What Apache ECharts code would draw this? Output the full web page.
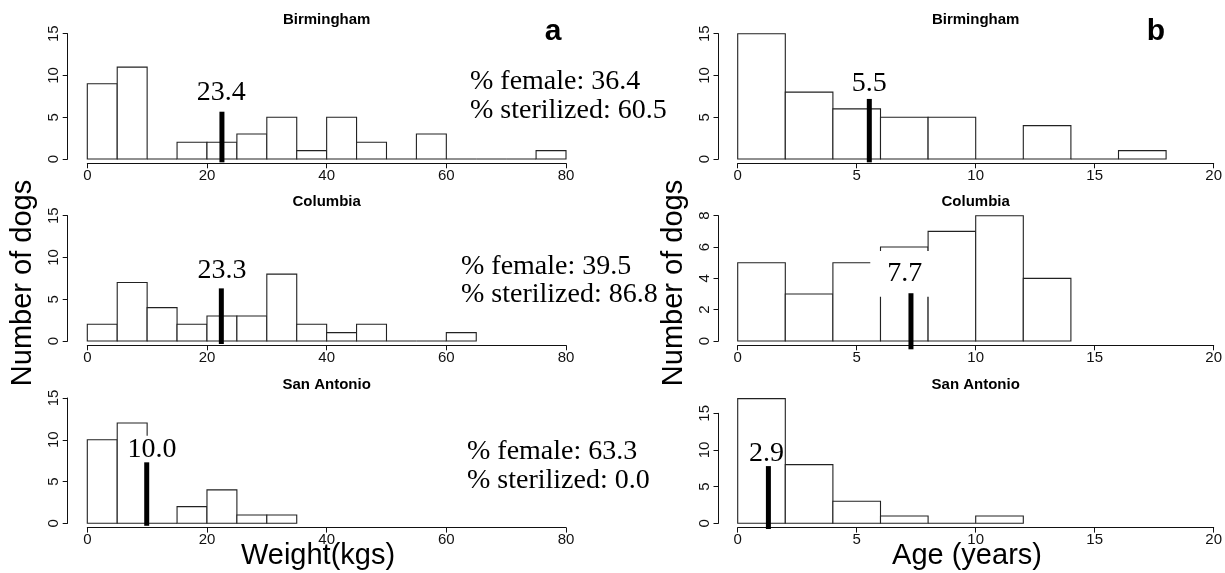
<!DOCTYPE html>
<html><head><meta charset="utf-8">
<script src="https://cdn.jsdelivr.net/npm/echarts@6/dist/echarts.min.js"></script>
<style>html,body{margin:0;padding:0;background:#fff}#c{width:1225px;height:573px}</style>
</head><body><div id="c"></div>
<script>
// ---------- data ----------
const cities = ['Birmingham', 'Columbia', 'San Antonio'];
const weightBinStarts = [0, 5, 10, 15, 20, 25, 30, 35, 40, 45, 50, 55, 60, 65, 70, 75];
const weightBinWidth = 5;
const ageBinStarts = [0, 2, 4, 6, 8, 10, 12, 14, 16];
const ageBinWidth = 2;
const weightBirmingham = [9, 11, 0, 2, 2, 3, 5, 1, 5, 2, 0, 3, 0, 0, 0, 1];
const weightColumbia = [2, 7, 4, 2, 3, 3, 8, 2, 1, 2, 0, 0, 1];
const weightSanAntonio = [10, 12, 0, 2, 4, 1, 1];
const ageBirmingham = [15, 8, 6, 5, 5, 0, 4, 0, 1];
const ageColumbia = [5, 3, 5, 6, 7, 8, 4];
const ageSanAntonio = [17, 8, 3, 1, 0, 1];
const weightMeanLabels = ['23.4', '23.3', '10.0'];
const weightMeanX = [22.5, 22.4, 9.93];
const weightMeanTop = [5.66, 6.3, 7.3];
const weightMeanBottom = [-0.4, -0.36, -0.3];
const weightLabelX = [22.4, 22.5, 10.8];
const weightLabelY = [7.95, 8.4, 8.8];
const ageMeanLabels = ['5.5', '7.7', '2.9'];
const ageMeanX = [5.53, 7.28, 1.29];
const ageMeanTop = [7.19, 3.05, 7.8];
const ageMeanBottom = [-0.4, -0.53, -0.78];
const ageLabelX = [5.53, 7.02, 1.21];
const ageLabelY = [9.0, 4.28, 9.45];
const pctFemale = ['36.4', '39.5', '63.3'];
const pctSterilized = ['60.5', '86.8', '0.0'];
const weightTicks = [0, 20, 40, 60, 80];
const ageTicks = [0, 5, 10, 15, 20];
const countTicks = [0, 5, 10, 15];
const columbiaAgeCountTicks = [0, 2, 4, 6, 8];

// ---------- layout ----------
const rowsTop = [33.7, 215.7, 398];
const rowH = 125.3;
const leftX = 87.3, leftW = 478.7;
const rightX = 737.7, rightW = 476;
const SERIF = '"Liberation Serif", "Times New Roman", serif';
const SANS = '"Liberation Sans", Arial, sans-serif';

const grids = [], xAxes = [], yAxes = [], series = [];
const panels = [
  {col: 0, row: 0, starts: weightBinStarts, w: weightBinWidth, counts: weightBirmingham, xt: weightTicks, yt: countTicks},
  {col: 0, row: 1, starts: weightBinStarts, w: weightBinWidth, counts: weightColumbia, xt: weightTicks, yt: countTicks},
  {col: 0, row: 2, starts: weightBinStarts, w: weightBinWidth, counts: weightSanAntonio, xt: weightTicks, yt: countTicks},
  {col: 1, row: 0, starts: ageBinStarts, w: ageBinWidth, counts: ageBirmingham, xt: ageTicks, yt: countTicks},
  {col: 1, row: 1, starts: ageBinStarts, w: ageBinWidth, counts: ageColumbia, xt: ageTicks, yt: columbiaAgeCountTicks},
  {col: 1, row: 2, starts: ageBinStarts, w: ageBinWidth, counts: ageSanAntonio, xt: ageTicks, yt: countTicks}
];

panels.forEach((p, i) => {
  let top = rowsTop[p.row], h = rowH;
  if (p.col === 1 && p.row === 2) { top = 413.3; h = 110; }
  grids.push({left: p.col ? rightX : leftX, top: top, width: p.col ? rightW : leftW, height: h, outerBoundsMode: 'none'});
  xAxes.push({
    type: 'value', gridIndex: i, min: p.xt[0], max: p.xt[p.xt.length - 1], interval: p.xt[1] - p.xt[0],
    position: 'bottom', offset: 4.3,
    axisLine: {show: true, onZero: false, lineStyle: {color: '#111', width: 1}},
    axisTick: {show: true, length: 5, lineStyle: {color: '#111', width: 1}},
    axisLabel: {fontSize: 15, fontFamily: SANS, color: '#111', margin: 5},
    splitLine: {show: false}
  });
  yAxes.push({
    type: 'value', gridIndex: i, min: p.yt[0], max: p.yt[p.yt.length - 1], interval: p.yt[1] - p.yt[0],
    position: 'left', offset: p.col ? 19.2 : 19.6,
    axisLine: {show: true, onZero: false, lineStyle: {color: '#111', width: 1}},
    axisTick: {show: true, length: 5, lineStyle: {color: '#111', width: 1}},
    axisLabel: {fontSize: 15, fontFamily: SANS, color: '#111', rotate: 90, margin: 6},
    splitLine: {show: false}
  });
  series.push({
    type: 'custom', xAxisIndex: i, yAxisIndex: i, clip: false, z: 2,
    data: p.counts.map((c, k) => [p.starts[k], p.starts[k] + p.w, c]),
    encode: {x: [0, 1], y: 2},
    renderItem: (params, api) => {
      const a = api.coord([api.value(0), api.value(2)]);
      const b = api.coord([api.value(1), 0]);
      return {type: 'rect', shape: {x: a[0], y: a[1], width: b[0] - a[0], height: b[1] - a[1]},
        style: {fill: '#fff', stroke: '#222', lineWidth: 1.1}};
    }
  });
  const r = p.row;
  const mx = p.col ? ageMeanX[r] : weightMeanX[r];
  const mt = p.col ? ageMeanTop[r] : weightMeanTop[r];
  const mb = p.col ? ageMeanBottom[r] : weightMeanBottom[r];
  const lx = p.col ? ageLabelX[r] : weightLabelX[r];
  const ly = p.col ? ageLabelY[r] : weightLabelY[r];
  const lt = p.col ? ageMeanLabels[r] : weightMeanLabels[r];
  const boxed = (p.col === 1 && p.row === 1);
  series.push({
    type: 'custom', xAxisIndex: i, yAxisIndex: i, clip: false, z: 3,
    data: [[lx, ly]],
    renderItem: (params, api) => {
      const c = api.coord([api.value(0), api.value(1)]);
      return {type: 'text', x: c[0], y: c[1], style: {
        text: lt, font: '28px ' + SERIF, fill: '#000',
        align: 'center', verticalAlign: 'middle', textAlign: 'center', textVerticalAlign: 'middle',
        lineHeight: 28, backgroundColor: '#fff', padding: boxed ? [12.5, 17, 5.3, 17] : [0, 0]}};
    }
  });
  series.push({
    type: 'custom', xAxisIndex: i, yAxisIndex: i, clip: false, z: 4,
    data: [[mx, mb, mt]],
    renderItem: (params, api) => {
      const a = api.coord([api.value(0), api.value(1)]);
      const b = api.coord([api.value(0), api.value(2)]);
      return {type: 'line', shape: {x1: a[0], y1: a[1], x2: b[0], y2: b[1]},
        style: {stroke: '#000', lineWidth: 5, lineCap: 'butt'}};
    }
  });
});

// ---------- annotations ----------
const graphic = [];
const titleY = [20, 202.3, 384.7];
cities.forEach((c, r) => {
  [leftX + leftW / 2, rightX + rightW / 2].forEach(cx => {
    graphic.push({type: 'text', x: cx, y: titleY[r], style: {text: c, font: 'bold 15px ' + SANS, fill: '#000',
      textAlign: 'center', textVerticalAlign: 'middle', align: 'center', verticalAlign: 'middle'}});
  });
});
const statX = [470, 461, 467];
const statY1 = [81.7, 266.7, 451.7];
const statY2 = [111, 295, 481];
cities.forEach((c, r) => {
  graphic.push({type: 'text', x: statX[r], y: statY1[r], style: {text: '% female: ' + pctFemale[r], font: '28px ' + SERIF, fill: '#000',
    textAlign: 'left', textVerticalAlign: 'middle', align: 'left', verticalAlign: 'middle'}});
  graphic.push({type: 'text', x: statX[r], y: statY2[r], style: {text: '% sterilized: ' + pctSterilized[r], font: '28px ' + SERIF, fill: '#000',
    textAlign: 'left', textVerticalAlign: 'middle', align: 'left', verticalAlign: 'middle'}});
});
[['a', 553], ['b', 1156]].forEach(([t, x]) => {
  graphic.push({type: 'text', x: x, y: 31.5, style: {text: t, font: 'bold 30px ' + SANS, fill: '#000',
    textAlign: 'center', textVerticalAlign: 'middle', align: 'center', verticalAlign: 'middle'}});
});
[[22.7, 'Number of dogs'], [673.5, 'Number of dogs']].forEach(([x, t]) => {
  graphic.push({type: 'text', x: x, y: 283, rotation: Math.PI / 2, style: {text: t, font: '29px ' + SANS, fill: '#000',
    textAlign: 'center', textVerticalAlign: 'middle', align: 'center', verticalAlign: 'middle'}});
});
graphic.push({type: 'text', x: 318, y: 556, style: {text: 'Weight(kgs)', font: '29px ' + SANS, fill: '#000',
  textAlign: 'center', textVerticalAlign: 'middle', align: 'center', verticalAlign: 'middle'}});
graphic.push({type: 'text', x: 967, y: 556, style: {text: 'Age (years)', font: '29px ' + SANS, fill: '#000',
  textAlign: 'center', textVerticalAlign: 'middle', align: 'center', verticalAlign: 'middle'}});

const chart = echarts.init(document.getElementById('c'), null, {renderer: 'canvas'});
chart.setOption({
  animation: false,
  backgroundColor: '#fff',
  grid: grids, xAxis: xAxes, yAxis: yAxes, series: series, graphic: graphic
});
</script></body></html>
